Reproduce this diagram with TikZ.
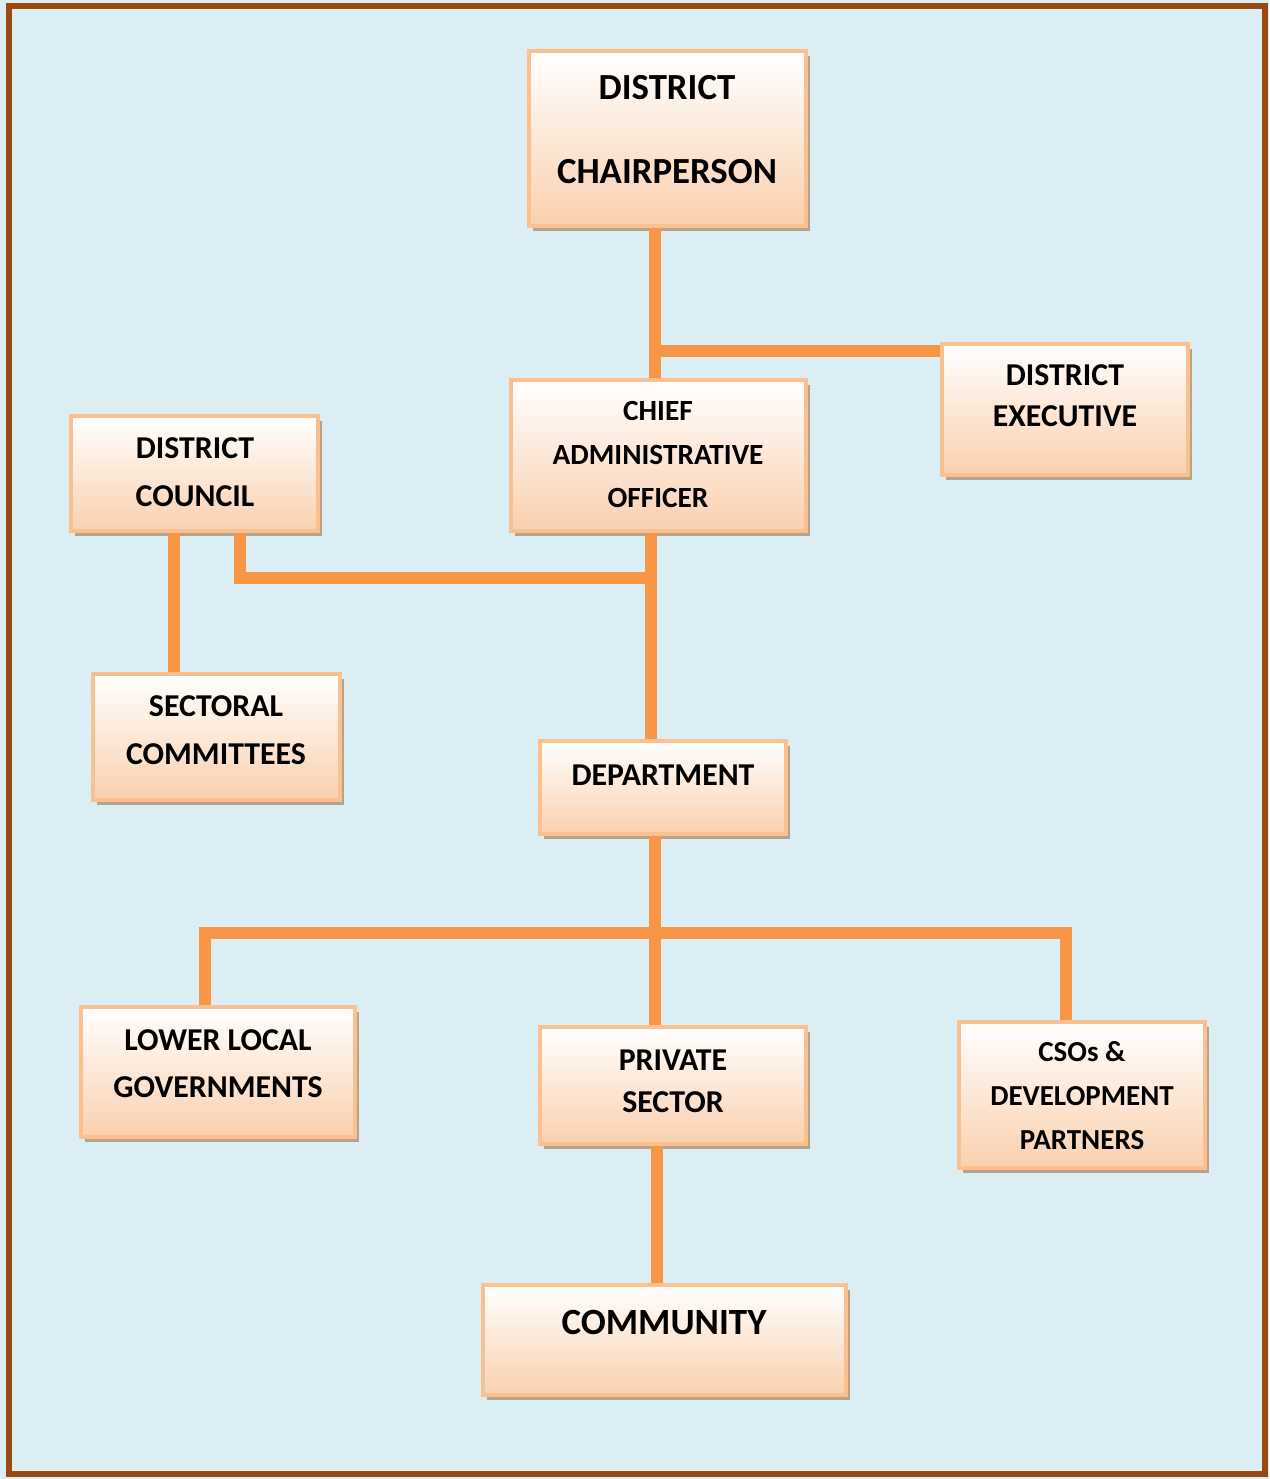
\documentclass[tikz,border=0pt]{standalone}
\usepackage{fontspec}
\setmainfont{Carlito}
\usetikzlibrary{calc,shadows}
\definecolor{skyfill}{HTML}{DBEEF4}
\definecolor{framebrown}{HTML}{9A4A0E}
\definecolor{peach}{HTML}{FAD0AE}
\definecolor{peachline}{HTML}{FAC090}
\definecolor{linkorange}{HTML}{F79646}
\definecolor{shadowtan}{HTML}{B9A28A}
\tikzset{
  orgbox/.style={draw=peachline, line width=4pt, top color=white, bottom color=peach, inner sep=0pt,
    drop shadow={shadow xshift=4pt, shadow yshift=-5pt, fill=shadowtan, opacity=1}},
  orgtext/.style={align=center, inner sep=0pt, font=\bfseries\fontsize{31.8}{48}\selectfont},
  link/.style={draw=linkorange, line width=12pt}
}

\begin{document}
\begin{tikzpicture}[x=1pt, y=-1pt]
  \useasboundingbox (0,0) rectangle (1269,1479);
  \fill[skyfill] (0,0) rectangle (1269,1479);
  \draw[framebrown, line width=6pt] (9,6.5) rectangle (1265,1474);

  % boxes
  \node[orgbox, minimum width=277pt, minimum height=175pt] (chair) at (667.5,138.5) {};
  \node[orgbox, minimum width=295pt, minimum height=151pt] (cao) at (658.5,455.5) {};
  \node[orgbox, minimum width=246pt, minimum height=131pt] (exec) at (1065,409.5) {};
  \node[orgbox, minimum width=247pt, minimum height=115pt] (council) at (194.5,473.5) {};
  \node[orgbox, minimum width=247pt, minimum height=126pt] (sectoral) at (216.5,737) {};
  \node[orgbox, minimum width=246pt, minimum height=93pt] (dept) at (663,787.5) {};
  \node[orgbox, minimum width=274pt, minimum height=130pt] (llg) at (218,1072) {};
  \node[orgbox, minimum width=266pt, minimum height=117pt] (private) at (673,1085.5) {};
  \node[orgbox, minimum width=246pt, minimum height=146pt] (csos) at (1082,1095) {};
  \node[orgbox, minimum width=363pt, minimum height=110pt] (community) at (664.5,1340) {};

  % texts
  \node[orgtext, font=\bfseries\fontsize{36.8}{84}\selectfont] (chairtext) at (667,130) {DISTRICT\\CHAIRPERSON};
  \node[orgtext, font=\bfseries\fontsize{29.3}{43.5}\selectfont] (caotext) at (658,454.5) {CHIEF\\ADMINISTRATIVE\\OFFICER};
  \node[orgtext, font=\bfseries\fontsize{31.8}{41}\selectfont] (exectext) at (1065,395.5) {DISTRICT\\EXECUTIVE};
  \node[orgtext] (counciltext) at (195,472) {DISTRICT\\COUNCIL};
  \node[orgtext] (sectoraltext) at (216,730) {SECTORAL\\COMMITTEES};
  \node[orgtext] (depttext) at (663,775) {DEPARTMENT};
  \node[orgtext, font=\bfseries\fontsize{31.8}{47}\selectfont] (llgtext) at (218,1063.5) {LOWER LOCAL\\GOVERNMENTS};
  \node[orgtext, font=\bfseries\fontsize{31.8}{42}\selectfont] (privatetext) at (673,1081) {PRIVATE\\SECTOR};
  \node[orgtext, font=\bfseries\fontsize{29}{44}\selectfont] (csostext) at (1082,1096) {CSOs \&\\DEVELOPMENT\\PARTNERS};
  \node[orgtext, font=\bfseries\fontsize{37}{44}\selectfont] (communitytext) at (664,1322) {COMMUNITY};

  % junctions
  \coordinate (jexec) at (655,351);
  \coordinate (jcouncil) at (651,578);
  \coordinate (jbus) at (655,933);
  \coordinate (jcomm) at (657,1215);
  \coordinate (llgtop) at ($(llg.north)+(-13,0)$);
  \coordinate (csostop) at ($(csos.north)+(-16,0)$);

  % connectors
  \draw[link] (chair.south -| jexec) -- (cao.north -| jexec);
  \draw[link] (jexec) -- (exec.west |- jexec);
  \draw[link] ($(council.south)+(-21,0)$) -- ($(sectoral.north)+(-43,0)$);
  \draw[link] ($(council.south)+(45,0)$) |- (jcouncil);
  \draw[link] (cao.south -| jcouncil) -- (dept.north -| jcouncil);
  \draw[link] (dept.south -| jbus) -- (private.north -| jbus);
  \draw[link] (llgtop) |- (jbus) -| (csostop);
  \draw[link] (private.south -| jcomm) -- (community.north -| jcomm);
\end{tikzpicture}
\end{document}
